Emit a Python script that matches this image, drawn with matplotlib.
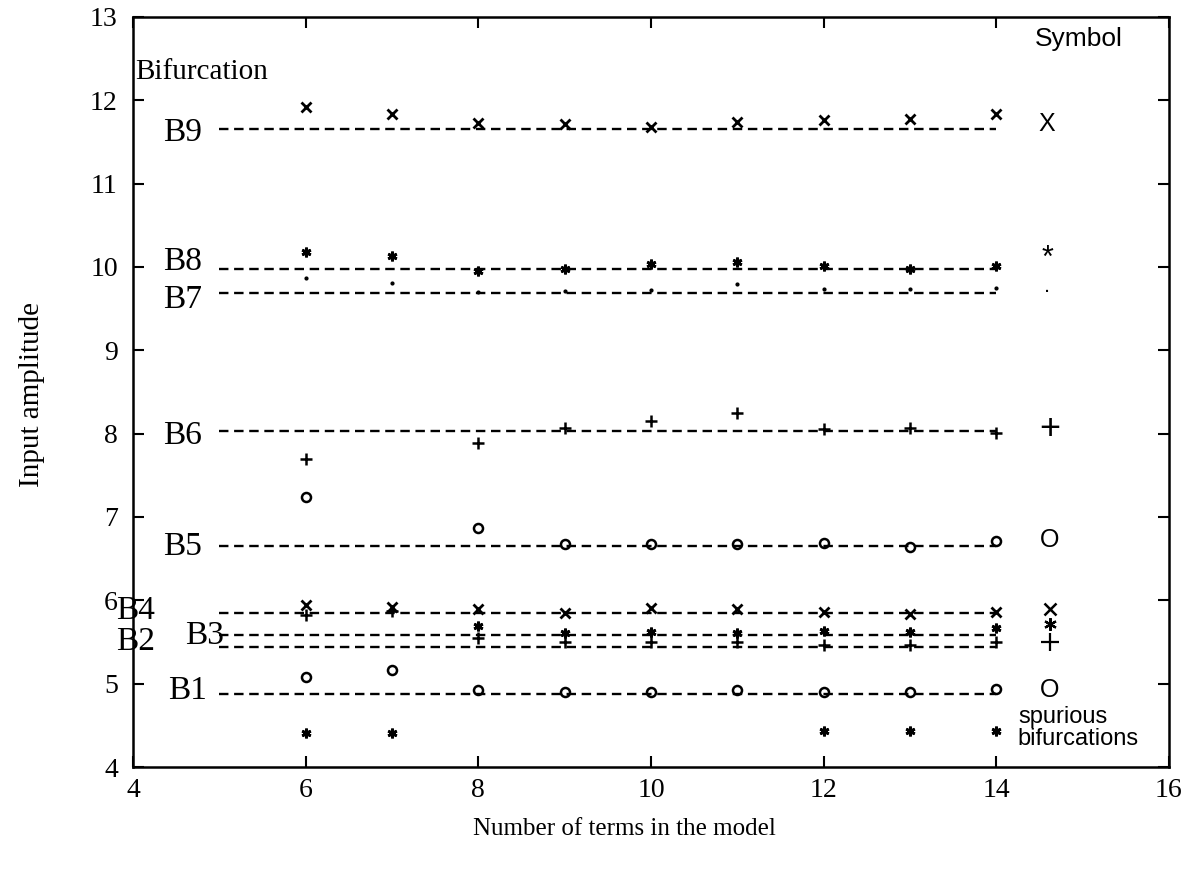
import matplotlib
matplotlib.use("Agg")
import matplotlib.pyplot as plt

plt.rcParams['font.family'] = ['Liberation Serif', 'DejaVu Serif']

n_terms = [6, 7, 8, 9, 10, 11, 12, 13, 14]

b9_x = [11.92, 11.83, 11.73, 11.71, 11.68, 11.74, 11.76, 11.77, 11.84]
b8_star = [10.18, 10.13, 9.95, 9.97, 10.04, 10.06, 10.01, 9.98, 10.01]
b7_dot = [9.87, 9.81, 9.70, 9.71, 9.72, 9.79, 9.73, 9.74, 9.75]
b6_n = [6, 8, 9, 10, 11, 12, 13, 14]
b6_plus = [7.70, 7.89, 8.07, 8.15, 8.25, 8.05, 8.07, 8.01]
b5_n = [6, 8, 9, 10, 11, 12, 13, 14]
b5_circ = [7.24, 6.87, 6.67, 6.67, 6.68, 6.69, 6.64, 6.71]
b4_x = [5.94, 5.92, 5.90, 5.85, 5.91, 5.90, 5.86, 5.84, 5.86]
b3_n = [8, 9, 10, 11, 12, 13, 14]
b3_star = [5.69, 5.61, 5.62, 5.61, 5.63, 5.62, 5.67]
b2_plus = [5.82, 5.87, 5.55, 5.50, 5.50, 5.50, 5.46, 5.46, 5.50]
b1_circ = [5.08, 5.16, 4.92, 4.90, 4.90, 4.92, 4.90, 4.90, 4.94]
spur_n = [6, 7, 12, 13, 14]
spur_star = [4.41, 4.41, 4.43, 4.43, 4.43]

bif_names = ['B1', 'B2', 'B3', 'B4', 'B5', 'B6', 'B7', 'B8', 'B9']
bif_levels = [4.88, 5.44, 5.58, 5.85, 6.65, 8.03, 9.69, 9.97, 11.66]
line_start, line_end = 5, 14

fig = plt.figure(figsize=(12.03, 8.71), dpi=100)
ax = fig.add_axes([0.1106, 0.1194, 0.8611, 0.8611])

# dashed bifurcation lines
for lvl in bif_levels:
    ax.plot([line_start, line_end], [lvl, lvl], color='black', lw=1.7,
            linestyle=(0, (4, 2.4)))

mk = dict(color='black', linestyle='none')
ax.plot(n_terms, b9_x, marker='x', ms=6.5, mew=2.0, **mk)
ax.plot(n_terms, b8_star, marker=(6, 2, 0), ms=7, mew=2.0, **mk)
ax.plot(n_terms, b7_dot, marker='.', ms=4, **mk)
ax.plot(b6_n, b6_plus, marker='+', ms=9, mew=1.8, **mk)
ax.plot(b5_n, b5_circ, marker='o', ms=6.5, mew=1.8, mfc='none', **mk)
ax.plot(n_terms, b4_x, marker='x', ms=6.5, mew=2.0, **mk)
ax.plot(b3_n, b3_star, marker=(6, 2, 0), ms=7, mew=2.0, **mk)
ax.plot(n_terms, b2_plus, marker='+', ms=9, mew=1.8, **mk)
ax.plot(n_terms, b1_circ, marker='o', ms=6.5, mew=1.8, mfc='none', **mk)
ax.plot(spur_n, spur_star, marker=(6, 2, 0), ms=7, mew=2.0, **mk)

# bifurcation labels
label_pos = {
    'B9': (4.35, 11.61), 'B8': (4.35, 10.06), 'B7': (4.35, 9.61),
    'B6': (4.35, 7.97), 'B5': (4.35, 6.64), 'B4': (3.80, 5.87),
    'B3': (4.60, 5.57), 'B2': (3.80, 5.50), 'B1': (4.41, 4.92),
}
for name in bif_names:
    x, y = label_pos[name]
    ax.text(x, y, name, fontsize=24, ha='left', va='center', clip_on=False)

ax.text(4.02, 12.34, 'Bifurcation', fontsize=21, ha='left', va='center')
ax.text(14.45, 12.73, 'Symbol', fontsize=19, ha='left', va='center',
        family=['Liberation Sans', 'DejaVu Sans'])

# symbol column (single symbols as text)
sym_items = [('X', 14.59, 11.72, 18), ('*', 14.59, 10.10, 22), ('.', 14.59, 9.76, 16),
             ('+', 14.62, 8.05, 26), ('O', 14.62, 6.72, 18), ('O', 14.62, 4.92, 18)]
for s, x, y, fs in sym_items:
    ax.text(x, y, s, fontsize=fs, ha='center', va='center',
            family=['Liberation Sans', 'DejaVu Sans'])

# stacked symbols for B4 / B3 / B2 (drawn as markers)
ax.plot([14.62], [5.89], marker='x', ms=8, mew=1.8, **mk)
ax.plot([14.62], [5.71], marker=(6, 2, 0), ms=9, mew=1.6, **mk)
ax.plot([14.62], [5.50], marker='+', ms=13, mew=1.6, **mk)

ax.text(14.25, 4.47, 'spurious\nbifurcations', fontsize=17, ha='left', va='center',
        linespacing=1.0, family=['Liberation Sans', 'DejaVu Sans'])

ax.set_xlim(4, 16)
ax.set_ylim(4, 13)
ax.set_xticks(range(4, 17, 2))
ax.set_yticks(range(4, 14))
ax.tick_params(direction='in', top=True, right=True, length=8, width=1.5,
               labelsize=20)
ax.tick_params(axis='y', pad=11)
ax.tick_params(axis='x', pad=8)
for sp in ax.spines.values():
    sp.set_linewidth(1.8)

ax.set_xlabel('Number of terms in the model', fontsize=18)
ax.xaxis.set_label_coords(0.474, -0.068)
ax.set_ylabel('Input amplitude', fontsize=21)
ax.yaxis.set_label_coords(-0.085, 0.496)

fig.savefig('out.png', dpi=100)
